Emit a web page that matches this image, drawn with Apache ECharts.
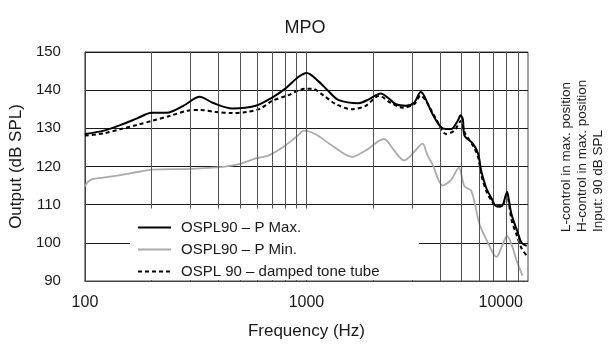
<!DOCTYPE html>
<html>
<head>
<meta charset="utf-8">
<script src="https://cdn.jsdelivr.net/npm/echarts@6/dist/echarts.min.js"></script>
<style>
html,body{margin:0;padding:0;background:#fff;}
#c{width:610px;height:345px;}
</style>
</head>
<body>
<div id="c"></div>
<script>
// ---- data ----
var maxFreq = [100,122,145,172,200,234,278,330,377,463,590,697,803,922,1003,1134,1259,1398,1723,1912,2163,2358,2530,2810,3060,3280,3400,3710,4120,4500,4820,4960,5080,5170,5640,5950,6170,6490,6840,7200,7590,8050,8170,8430,8890,9360,9860];
var maxDb   = [128.5,129.4,130.9,132.6,134.1,134.1,135.9,138.3,136.7,135.2,135.9,138.0,140.4,143.5,144.5,142.3,139.7,137.4,136.6,137.6,139.1,137.8,136.3,135.9,136.7,139.5,138.5,133.7,130.0,129.8,132.0,133.4,132.4,128.1,126.0,123.4,118.5,114.3,111.7,109.6,109.6,113.3,111.7,107.4,103.5,100.0,99.2];

var minFreq = [100,103,108,126,160,202,300,419,502,590,676,803,922,970,1095,1303,1607,1849,2239,2486,2758,3060,3340,3520,3710,4120,4500,4870,5170,5550,6050,6600,7200,7590,8050,8430,8890,9450];
var minDb   = [114.8,115.9,116.7,117.2,118.2,119.2,119.4,119.9,120.7,122.1,122.9,125.5,128.3,129.4,128.5,125.5,122.5,124.2,127.2,124.2,121.6,123.8,126.0,122.9,120.5,115.0,116.5,119.7,114.8,113.6,104.8,100.0,96.3,98.8,101.8,99.6,95.3,91.4];

var dampFreq = [100,122,145,172,202,243,290,330,390,463,540,620,700,820,990,1060,1200,1360,1610,1850,2125,2400,2710,3060,3280,3460,3850,4270,4650,4990,5170,5640,5950,6170,6490,6840,7200,7590,8050,8170,8430,8890,9360,9860];
var dampDb   = [128.1,128.7,129.8,130.9,132.0,133.3,134.6,134.8,134.3,134.0,134.3,135.2,137.2,138.6,140.4,140.4,138.5,136.3,135.0,135.9,138.5,136.7,135.4,136.3,138.6,137.2,132.4,128.5,129.4,132.0,129.0,125.5,122.5,117.5,113.5,111.0,109.5,109.5,112.5,111.0,106.0,102.0,98.5,96.7];

var gridFreqs = [200,300,400,500,600,700,800,900,1000,2000,3000,4000,5000,6000,7000,8000,9000];
var yTicks = [90,100,110,120,130,140,150];
var xTickLabels = ['100','1000','10000'];
var seriesNames = ['OSPL90 \u2013 P Max.','OSPL90 \u2013 P Min.','OSPL 90 \u2013 damped tone tube'];
var noteLines = ['L-control in max. position','H-control in max. position','Input: 90 dB SPL'];

function pairs(f, v){ return f.map(function(x,i){ return [x, v[i]]; }); }

var FONT = 'Liberation Sans';
var chart = echarts.init(document.getElementById('c'), null, {renderer:'canvas'});
chart.setOption({
  animation: false,
  backgroundColor: '#fff',
  textStyle: {fontFamily: FONT},
  title: {
    text: 'MPO', left: 'center', top: 14,
    textStyle: {fontFamily: FONT, fontSize: 18, fontWeight: 'normal', color: '#1a1a1a'}
  },
  grid: {left: 84, right: 82, top: 52, bottom: 61, show: true, borderColor: '#444', borderWidth: 1},
  legend: {
    data: seriesNames,
    orient: 'vertical', left: 137, top: 220, padding: 0,
    itemWidth: 33, itemHeight: 15, itemGap: 7,
    itemStyle: {color: 'rgba(0,0,0,0)', borderWidth: 0, opacity: 0},
    textStyle: {fontFamily: FONT, fontSize: 15, color: '#1a1a1a', padding: [0,0,0,5]},
    z: 20
  },
  xAxis: {
    type: 'log', logBase: 10, min: 100, max: 10000,
    name: 'Frequency (Hz)', nameLocation: 'middle', nameGap: 42,
    nameTextStyle: {fontFamily: FONT, fontSize: 17, color: '#1a1a1a'},
    axisLine: {lineStyle: {color: '#444', width: 1}},
    axisTick: {show: false},
    splitLine: {show: false},
    axisLabel: {
      margin: 14, fontFamily: FONT, fontSize: 16, color: '#1a1a1a',
      formatter: function(v){
        var s = String(Math.round(v));
        if (xTickLabels.indexOf(s) < 0) return '';
        return s === xTickLabels[xTickLabels.length-1] ? '{r|' + s + '}' : s;
      },
      alignMaxLabel: 'right',
      rich: {r: {fontFamily: FONT, fontSize: 16, color: '#1a1a1a', padding: [0,5,0,0]}}
    }
  },
  yAxis: {
    type: 'value', min: yTicks[0], max: yTicks[yTicks.length-1], interval: 10,
    name: 'Output (dB SPL)', nameLocation: 'middle', nameGap: 52,
    nameTextStyle: {fontFamily: FONT, fontSize: 17, color: '#1a1a1a'},
    axisLine: {show: true, lineStyle: {color: '#444', width: 1}},
    axisTick: {show: false},
    axisLabel: {margin: 24, fontFamily: FONT, fontSize: 15, color: '#1a1a1a'},
    splitLine: {show: true, lineStyle: {color: '#1a1a1a', width: 1}}
  },
  graphic: [
    {type: 'rect', z: 10, silent: true, shape: {x: 130, y: 208.5, width: 289, height: 71.5}, style: {fill: '#fff'}},
    {type: 'text', z: 10, x: 558, y: 232, rotation: Math.PI/2, silent: true,
     style: {text: noteLines.join('\n'), fontFamily: FONT, fontSize: 13.5, lineHeight: 16, fill: '#1a1a1a', align: 'left', verticalAlign: 'top'}}
  ],
  series: [
    {
      name: '_grid', type: 'line', data: [], silent: true,
      markLine: {
        silent: true, symbol: 'none', animation: false,
        label: {show: false},
        lineStyle: {color: '#555', width: 1, type: 'solid'},
        emphasis: {disabled: true},
        data: gridFreqs.map(function(f){ return {xAxis: f}; })
      },
      z: 1
    },
    {
      name: seriesNames[1], type: 'line', data: pairs(minFreq, minDb),
      showSymbol: false, symbol: 'none', smooth: 0.3,
      lineStyle: {color: '#ababab', width: 1.8}, itemStyle: {color: '#ababab'}, z: 3
    },
    {
      name: seriesNames[2], type: 'line', data: pairs(dampFreq, dampDb),
      showSymbol: false, symbol: 'none', smooth: 0.3,
      lineStyle: {color: '#000', width: 2, type: [4,3]}, itemStyle: {color: '#000'}, z: 4
    },
    {
      name: seriesNames[0], type: 'line', data: pairs(maxFreq, maxDb),
      showSymbol: false, symbol: 'none', smooth: 0.3,
      lineStyle: {color: '#000', width: 2}, itemStyle: {color: '#000'}, z: 5
    }
  ]
});
</script>
</body>
</html>
